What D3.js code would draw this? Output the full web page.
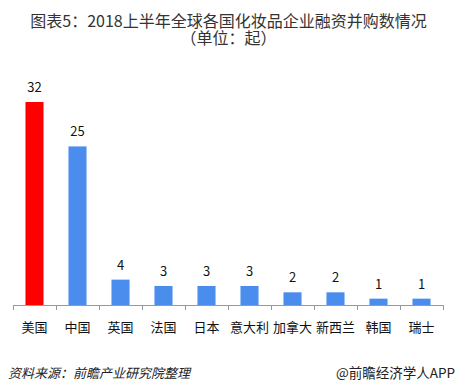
<!DOCTYPE html>
<html>
<head>
<meta charset="utf-8">
<script src="https://d3js.org/d3.v7.min.js"></script>
<style>
  body { margin: 0; background: #fff; }
  svg { display: block; }
  text { font-family: "Noto Sans CJK SC", "Noto Sans", sans-serif; }
</style>
</head>
<body>
<svg id="chart"></svg>
<script>
const countries = ['美国', '中国', '英国', '法国', '日本', '意大利', '加拿大', '新西兰', '韩国', '瑞士'];
const deals = [32, 25, 4, 3, 3, 3, 2, 2, 1, 1];
const titleLines = ['图表5：2018上半年全球各国化妆品企业融资并购数情况', '（单位：起）'];

const width = 457, height = 392;
const svg = d3.select('#chart').attr('width', width).attr('height', height);

// title (two lines, tight spacing like the original)
svg.append('g').selectAll('text')
  .data(titleLines)
  .enter().append('text')
  .attr('x', width / 2)
  .attr('y', (d, i) => 27 + i * 17)
  .attr('text-anchor', 'middle')
  .attr('font-size', 16)
  .attr('fill', '#333')
  .text(d => d);

const x = d3.scaleBand().domain(countries).range([13, 443]).paddingInner(0.58).paddingOuter(0.29);
const y = d3.scaleLinear().domain([0, 32]).range([305, 102]);

const data = countries.map((c, i) => ({ c, v: deals[i] }));

svg.append('g').selectAll('rect')
  .data(data)
  .enter().append('rect')
  .attr('x', d => x(d.c))
  .attr('y', d => y(d.v))
  .attr('width', x.bandwidth())
  .attr('height', d => y(0) - y(d.v))
  .attr('fill', (d, i) => i === 0 ? '#ff0000' : '#4a8ded');

svg.append('g').selectAll('text')
  .data(data)
  .enter().append('text')
  .attr('x', d => x(d.c) + x.bandwidth() / 2)
  .attr('y', d => y(d.v) - 10)
  .attr('text-anchor', 'middle')
  .attr('font-size', 13)
  .attr('fill', '#111')
  .text(d => d.v);

// axis line + ticks between categories
const ax = svg.append('g').attr('stroke', '#999').attr('stroke-width', 1);
ax.append('line').attr('x1', 13).attr('x2', 443).attr('y1', 305.5).attr('y2', 305.5);
ax.selectAll('.tk')
  .data(d3.range(countries.length + 1))
  .enter().append('line')
  .attr('x1', i => Math.round(13 + i * x.step()) + 0.5)
  .attr('x2', i => Math.round(13 + i * x.step()) + 0.5)
  .attr('y1', 305)
  .attr('y2', 310);

svg.append('g').selectAll('text')
  .data(countries)
  .enter().append('text')
  .attr('x', d => x(d) + x.bandwidth() / 2)
  .attr('y', 332)
  .attr('text-anchor', 'middle')
  .attr('font-size', 13)
  .attr('fill', '#111')
  .text(d => d);

// footer
svg.append('text')
  .attr('x', 8).attr('y', 378)
  .attr('font-size', 13)
  .attr('font-style', 'italic')
  .attr('fill', '#222')
  .text('资料来源：前瞻产业研究院整理');

svg.append('text')
  .attr('x', 455).attr('y', 378)
  .attr('text-anchor', 'end')
  .attr('font-size', 13.5)
  .attr('fill', '#222')
  .text('@前瞻经济学人APP');
</script>
</body>
</html>
